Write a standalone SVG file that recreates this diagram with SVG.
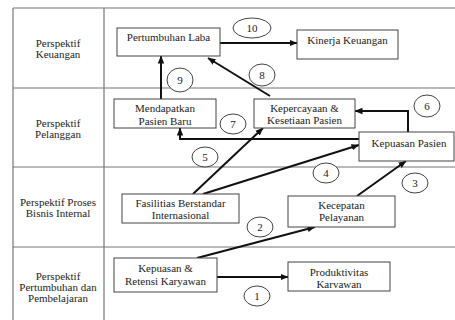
<svg xmlns="http://www.w3.org/2000/svg" width="455" height="320" viewBox="0 0 455 320" font-family="'Liberation Serif', 'Times New Roman', 'DejaVu Serif', serif">
<defs>
<style>
text{font-family:'Liberation Serif','Times New Roman','DejaVu Serif',serif;font-size:11px;fill:#222;text-anchor:middle}
.grid{stroke:#777;stroke-width:1.2;fill:none}
.box{fill:#fff;stroke:#444;stroke-width:1}
.conn{stroke:#111;stroke-width:2;fill:none}
.num{fill:#fff;stroke:#444;stroke-width:1}
</style>
<marker id="ah" markerUnits="userSpaceOnUse" markerWidth="8" markerHeight="8" viewBox="0 0 8 8" refX="7.5" refY="4" orient="auto">
<path d="M0,0.8 L8,4 L0,7.2 Z" fill="#111"/>
</marker>
</defs>
<rect width="455" height="320" fill="#fff"/>
<g id="grid">
<path class="grid" d="M13,8 H455 M13,88 H455 M13,167 H455 M13,247 H455 M13,8 V320 M104,8 V320"/>
</g>
<g id="labels">
<text x="58" y="47">Perspektif</text><text x="58" y="58">Keuangan</text>
<text x="58" y="127">Perspektif</text><text x="58" y="138">Pelanggan</text>
<text x="58" y="206">Perspektif Proses</text><text x="58" y="217">Bisnis Internal</text>
<text x="58" y="280">Perspektif</text><text x="58" y="291">Pertumbuhan dan</text><text x="58" y="302">Pembelajaran</text>
</g>
<g id="connectors">
<path class="conn" d="M220,43 H297" marker-end="url(#ah)"/>
<path class="conn" d="M161,99 V56" marker-end="url(#ah)"/>
<path class="conn" d="M270,96 L208,58" marker-end="url(#ah)"/>
<path class="conn" d="M408,132 V111 H355" marker-end="url(#ah)"/>
<path class="conn" d="M359,139 H180 V128" marker-end="url(#ah)"/>
<path class="conn" d="M193,194 L263,128" marker-end="url(#ah)"/>
<path class="conn" d="M203,194 L359,145" marker-end="url(#ah)"/>
<path class="conn" d="M357,196 L406,161" marker-end="url(#ah)"/>
<path class="conn" d="M197,258 L315,227" marker-end="url(#ah)"/>
<path class="conn" d="M217,277 H288" marker-end="url(#ah)"/>
</g>
<g id="n-laba"><rect class="box" x="117" y="28" width="103" height="28"/><text x="168.5" y="41">Pertumbuhan Laba</text></g>
<g id="n-kinerja"><rect class="box" x="297" y="30" width="101" height="29"/><text x="347.5" y="44">Kinerja Keuangan</text></g>
<g id="n-mendapatkan"><rect class="box" x="114" y="99" width="102" height="29"/><text x="165" y="112">Mendapatkan</text><text x="165" y="125">Pasien Baru</text></g>
<g id="n-kepercayaan"><rect class="box" x="254" y="99" width="101" height="29"/><text x="304.5" y="112">Kepercayaan &amp;</text><text x="304.5" y="124">Kesetiaan Pasien</text></g>
<g id="n-kepuasanpasien"><rect class="box" x="359" y="132" width="95" height="29"/><text x="409" y="147">Kepuasan Pasien</text></g>
<g id="n-fasilitas"><rect class="box" x="122" y="194" width="117" height="29"/><text x="180.5" y="207">Fasilitias Berstandar</text><text x="180.5" y="219">Internasional</text></g>
<g id="n-kecepatan"><rect class="box" x="288" y="196" width="107" height="31"/><text x="341.5" y="209">Kecepatan</text><text x="341.5" y="221">Pelayanan</text></g>
<g id="n-retensi"><rect class="box" x="114" y="258" width="103" height="34"/><text x="165.5" y="272">Kepuasan &amp;</text><text x="165.5" y="285">Retensi Karyawan</text></g>
<g id="n-produktivitas"><rect class="box" x="288" y="262" width="102" height="29"/><text x="339" y="276">Produktivitas</text><text x="339" y="288">Karvawan</text></g>
<g id="numbers">
<g id="num-1"><ellipse class="num" cx="257" cy="296" rx="13" ry="10"/><text x="257" y="300">1</text></g>
<g id="num-2"><ellipse class="num" cx="260" cy="227" rx="13" ry="10"/><text x="260" y="231">2</text></g>
<g id="num-3"><ellipse class="num" cx="415" cy="183" rx="13" ry="10"/><text x="415" y="187">3</text></g>
<g id="num-4"><ellipse class="num" cx="326" cy="173" rx="13" ry="10"/><text x="326" y="177">4</text></g>
<g id="num-5"><ellipse class="num" cx="205" cy="157" rx="13" ry="10"/><text x="205" y="161">5</text></g>
<g id="num-6"><ellipse class="num" cx="427" cy="106" rx="13" ry="11"/><text x="427" y="110">6</text></g>
<g id="num-7"><ellipse class="num" cx="233" cy="124" rx="13" ry="10"/><text x="233" y="128">7</text></g>
<g id="num-8"><ellipse class="num" cx="262" cy="75" rx="13" ry="11"/><text x="262" y="79">8</text></g>
<g id="num-9"><ellipse class="num" cx="180" cy="80" rx="13" ry="12"/><text x="180" y="84">9</text></g>
<g id="num-10"><ellipse class="num" cx="252" cy="28" rx="19" ry="10"/><text x="252" y="32">10</text></g>
</g>
</svg>
